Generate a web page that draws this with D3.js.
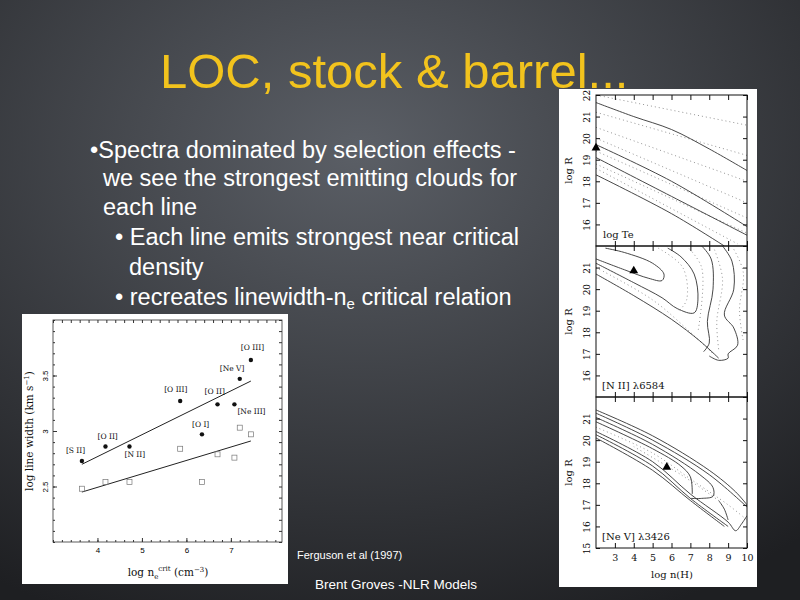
<!DOCTYPE html>
<html><head><meta charset="utf-8">
<script src="https://cdn.jsdelivr.net/npm/d3@7"></script>
<style>body{margin:0;background:#000}svg{display:block}</style></head>
<body><svg id="s" width="800" height="600"></svg>
<script>
// ---- data: left scatter ----
const lineLabels = ["[S II]","[O II]","[N II]","[O III]","[O I]","[O II]","[Ne III]","[Ne V]","[O III]"];
const logNcrit   = [3.65,4.18,4.72,5.86,6.35,6.70,7.08,7.20,7.45];
const widthFilled= [2.73,2.86,2.86,3.27,2.97,3.24,3.24,3.47,3.64];
const widthOpen  = [2.48,2.54,2.54,2.84,2.54,2.79,2.76,3.03,2.97];
const fitUpper = [[3.65,2.70],[7.45,3.45]];
const fitLower = [[3.65,2.45],[7.45,2.91]];
const xTicks = [4,5,6,7];
const yTicks = [2.5,3,3.5];
// ---- data: right contour panels (log n(H), log R) ----
const panelTitles = ["log Te","[N II] λ6584","[Ne V] λ3426"];
const rTicks = [15,16,17,18,19,20,21,22];
const nTicks = [3,4,5,6,7,8,9,10];
const topSolid = [
 [[2,21.65],[4,21.0],[6,20.4],[8,19.5],[10,18.5]],
 [[2,19.7],[6,18.0],[10,15.9]],
 [[2,19.1],[6,17.3],[10,15.5]],
 [[2,18.3],[6,16.5],[8.8,15.0]]];
const topDotted = [
 [[2,22.0],[10,20.6]],[[2,21.2],[10,19.2]],[[2,20.5],[10,18.0]],[[2,20.0],[10,17.0]],
 [[2,19.4],[10,16.3]],[[2,18.8],[10,15.6]],[[2,18.6],[9.5,15.1]]];
const midSolid = [
 [[2,20.7],[4,19.7],[6,18.6],[7.5,17.6],[8.5,16.8]],
 [[2,21.4],[3.5,20.9],[4.8,20.5],[5.5,20.4],[5.6,20.7],[5,21.2],[3.5,21.7],[2.5,21.9]],
 [[2,21.2],[4,20.3],[5.5,19.6],[6.3,19.1],[7.2,18.9],[7.4,19.5],[7.2,20.7],[6.5,21.5],[5.8,21.9]],
 [[7.6,22],[8.1,21.4],[8.2,20.0],[7.9,18.5],[8.0,17.5],[7.7,17.1]],
 [[8.7,22],[9.2,21.3],[9.3,20.0],[8.8,18.8],[9.3,18.2],[9.5,17.4],[9.0,17.0],[9.0,16.8],[8.5,16.7],[8.0,16.9]]];
const midDotted = [
 [[2,21.0],[5,19.5],[7,18.0],[8.2,17.0]],[[5.3,21.9],[6.6,21.0],[6.8,19.5],[6.4,19.0]],
 [[6.8,22],[7.6,21.0],[7.4,18.0]],[[8.2,22],[8.7,20.5],[8.4,18.5],[8.5,17.2]],[[9.2,22],[9.8,20.8],[9.6,19.0],[9.8,17.6]]];
const botSolid = [
 [[2,21.4],[5,20.2],[8,18.6],[9.4,17.6],[10,17.0]],
 [[2,21.25],[5,20.0],[8,18.4],[10,16.9]],
 [[2,21.05],[5,19.8],[7.5,18.4],[8.2,17.8],[8.2,17.4],[7.6,17.3],[7.0,17.3]],
 [[2,20.85],[5,19.6],[6.5,18.8],[7.0,18.3],[7.1,17.5]],
 [[2,20.4],[5,19.0],[7,17.5],[9,16.2],[9.4,15.8],[9.7,16.1],[10,16.5]],
 [[2,20.25],[5,18.8],[7,17.3],[9,16.0]],
 [[2,20.1],[5,18.6],[7,17.2],[8.8,16.0]],
 [[8.5,17.2],[8.8,16.8],[9.0,16.3]]];
const botDotted = [[[2,20.6],[5,19.4],[7,18.2],[9,17.0],[10,16.3]],[[4,19.7],[6.5,18.4],[8.5,17.2]]];
const triangles = [[2.0,19.55],[4.0,20.85],[5.75,18.75]];

const svg = d3.select("#s");
const defs = svg.append("defs");
const rg = defs.append("radialGradient").attr("id","bg").attr("cx","45%").attr("cy","25%").attr("r","85%");
rg.append("stop").attr("offset","0%").attr("stop-color","#5b5f66");
rg.append("stop").attr("offset","100%").attr("stop-color","#1e1f22");
svg.append("rect").attr("width",800).attr("height",600).attr("fill","url(#bg)");

svg.append("text").attr("x",160).attr("y",88)
  .attr("font-family","Liberation Sans, Arial").attr("font-size",49).attr("fill","#f2c31d")
  .text("LOC, stock & barrel...");

const bullets = [
 {x:90,y:158,t:"•Spectra dominated by selection effects -"},
 {x:103,y:186,t:"we see the strongest emitting clouds for"},
 {x:103,y:215,t:"each line"},
 {x:115,y:245,t:"• Each line emits strongest near critical"},
 {x:129,y:275,t:"density"},
 {x:115,y:305,t:"sub"}];
bullets.forEach(b=>{
  const t = svg.append("text").attr("x",b.x).attr("y",b.y).attr("font-family","Liberation Sans, Arial")
    .attr("font-size",23.5).attr("fill","#fff");
  if(b.t==="sub"){
    t.append("tspan").text("• recreates linewidth-n");
    t.append("tspan").attr("font-size",15).attr("dy",4).text("e");
    t.append("tspan").attr("dy",-4).text(" critical relation");
  } else t.text(b.t);
});
svg.append("text").attr("x",297).attr("y",559).attr("font-family","Liberation Sans, Arial").attr("font-size",11).attr("fill","#fff").text("Ferguson et al (1997)");
svg.append("text").attr("x",315).attr("y",589).attr("font-family","Liberation Sans, Arial").attr("font-size",13.5).attr("fill","#fff").text("Brent Groves -NLR Models");

const serif = "DejaVu Serif, Liberation Serif";
// ---- left scatter ----
svg.append("rect").attr("x",22).attr("y",314).attr("width",266).attr("height",270).attr("fill","#fff");
const x = d3.scaleLinear().domain([3,8.15]).range([53,282]);
const y = d3.scaleLinear().domain([2,4]).range([542,320]);
const g = svg.append("g");
g.append("rect").attr("x",53).attr("y",320).attr("width",229).attr("height",222).attr("fill","none").attr("stroke","#333").attr("stroke-width",0.8);
g.append("g").attr("transform","translate(0,542)").call(d3.axisBottom(x).tickValues(xTicks).tickSize(-4).tickFormat(d3.format("d")))
 .call(a=>{a.select(".domain").remove();a.selectAll("text").attr("font-size",8).attr("font-family","Liberation Sans").attr("dy",8);});
g.append("g").attr("transform","translate(0,542)").call(d3.axisBottom(x).ticks(20).tickSize(-2).tickFormat("")).call(a=>a.select(".domain").remove());
g.append("g").attr("transform","translate(0,320)").call(d3.axisTop(x).ticks(20).tickSize(-3).tickFormat(""))
 .call(a=>a.select(".domain").remove());
g.append("g").attr("transform","translate(53,0)").call(d3.axisLeft(y).tickValues(yTicks).tickSize(-4).tickFormat(d=>d))
 .call(a=>{a.select(".domain").remove();a.selectAll("text").attr("font-size",8).attr("font-family","Liberation Sans").attr("text-anchor","middle").attr("x",-8).attr("dy",3).attr("transform","rotate(-90,-8,0)");});
g.append("g").attr("transform","translate(53,0)").call(d3.axisLeft(y).ticks(20).tickSize(-2).tickFormat("")).call(a=>a.select(".domain").remove());
g.append("g").attr("transform","translate(282,0)").call(d3.axisRight(y).ticks(20).tickSize(-3).tickFormat(""))
 .call(a=>a.select(".domain").remove());
g.selectAll(".tick line").attr("stroke","#333");
const ln = d3.line().x(d=>x(d[0])).y(d=>y(d[1]));
[fitUpper,fitLower].forEach(f=>g.append("path").attr("d",ln(f)).attr("stroke","#222").attr("fill","none"));
g.selectAll(".f").data(logNcrit).join("circle").attr("cx",d=>x(d)).attr("cy",(d,i)=>y(widthFilled[i])).attr("r",2.2).attr("fill","#111");
g.selectAll(".o").data(logNcrit).join("rect").attr("x",d=>x(d)-2.5).attr("y",(d,i)=>y(widthOpen[i])-2.5).attr("width",5).attr("height",5).attr("fill","none").attr("stroke","#777").attr("stroke-width",0.7);
const lo = [[-16,-8],[-8,-8],[-5,10],[-16,-9],[-10,-7],[-13,-10],[3,10],[-20,-8],[-10,-10]];
g.selectAll(".l").data(lineLabels).join("text").attr("x",(d,i)=>x(logNcrit[i])+lo[i][0]).attr("y",(d,i)=>y(widthFilled[i])+lo[i][1])
 .attr("font-size",7.5).attr("font-family",serif).attr("fill","#111").text(d=>d);
g.append("text").attr("x",168).attr("y",576).attr("text-anchor","middle").attr("font-family",serif).attr("font-size",10.5).attr("fill","#111")
 .html('log n<tspan font-size="7" dy="3">e</tspan><tspan font-size="7" dy="-8">crit</tspan><tspan dy="5"> (cm</tspan><tspan font-size="7" dy="-4">−3</tspan><tspan dy="4">)</tspan>');
g.append("text").attr("transform","translate(33,431) rotate(-90)").attr("text-anchor","middle").attr("font-family",serif).attr("font-size",10.5).attr("fill","#111")
 .html('log line width (km s<tspan font-size="7" dy="-4">−1</tspan><tspan dy="4">)</tspan>');

// ---- right panels ----
svg.append("rect").attr("x",559).attr("y",89).attr("width",198).attr("height",498).attr("fill","#fff");
const xn = d3.scaleLinear().domain([2,10]).range([596,747]);
const tops=[95,246,397], ph=151;
const panels=[[topSolid,topDotted],[midSolid,midDotted],[botSolid,botDotted]];
panels.forEach((p,k)=>{
  const yr = d3.scaleLinear().domain([15,22]).range([tops[k]+ph,tops[k]]);
  const pg = svg.append("g");
  const clipId="c"+k;
  defs.append("clipPath").attr("id",clipId).append("rect").attr("x",596).attr("y",tops[k]).attr("width",151).attr("height",ph);
  const l2 = d3.line().x(d=>xn(d[0])).y(d=>yr(d[1])).curve(d3.curveCatmullRom);
  const cg = pg.append("g").attr("clip-path",`url(#${clipId})`);
  p[1].forEach(c=>cg.append("path").attr("d",l2(c)).attr("fill","none").attr("stroke","#888").attr("stroke-width",0.9).attr("stroke-dasharray","1,3"));
  p[0].forEach(c=>cg.append("path").attr("d",l2(c)).attr("fill","none").attr("stroke","#333").attr("stroke-width",0.9));
  pg.append("rect").attr("x",596).attr("y",tops[k]).attr("width",151).attr("height",ph).attr("fill","none").attr("stroke","#111");
  const ticksShown = k===0? rTicks.slice(1) : (k===1? rTicks.slice(1,7) : rTicks.slice(0,7));
  pg.append("g").attr("transform","translate(596,0)").call(d3.axisLeft(yr).tickValues(ticksShown).tickSize(-4).tickFormat(d3.format("d")))
    .call(a=>{a.select(".domain").remove();a.selectAll("text").attr("font-size",9).attr("font-family",serif).attr("text-anchor","middle").attr("dy",3).attr("x",-9).attr("transform","rotate(-90,-9,0)");});
  pg.append("g").attr("transform","translate(747,0)").call(d3.axisRight(yr).tickValues(rTicks).tickSize(-4).tickFormat(""))
    .call(a=>a.select(".domain").remove());
  pg.append("g").attr("transform",`translate(0,${tops[k]+ph})`).call(d3.axisTop(xn).tickValues(nTicks).tickSize(5).tickFormat(""))
    .call(a=>a.select(".domain").remove());
  pg.append("g").attr("transform",`translate(0,${tops[k]})`).call(d3.axisBottom(xn).tickValues(nTicks).tickSize(5).tickFormat(""))
    .call(a=>a.select(".domain").remove());
  pg.selectAll(".tick line").attr("stroke","#111");
  pg.append("text").attr("transform",`translate(572,${tops[k]+ph/2}) rotate(-90)`).attr("text-anchor","middle").attr("font-family",serif).attr("font-size",10).attr("fill","#111").text("log R");
  pg.append("text").attr("x",k===0?603:602).attr("y",tops[k]+ph-8).attr("font-family",serif).attr("font-size",10).attr("fill","#111").text(panelTitles[k]);
  const t = triangles[k];
  pg.append("path").attr("d",d3.symbol(d3.symbolTriangle,34)()).attr("transform",`translate(${xn(t[0])},${yr(t[1])})`).attr("fill","#000");
});
svg.append("g").attr("transform","translate(0,548)").call(d3.axisBottom(xn).tickValues(nTicks).tickSize(0).tickFormat(d3.format("d")))
  .call(a=>{a.select(".domain").remove();a.selectAll("text").attr("font-size",9.5).attr("font-family",serif).attr("fill","#111").attr("dy",10);});
svg.append("text").attr("x",672).attr("y",578).attr("text-anchor","middle").attr("font-family",serif).attr("font-size",10).attr("fill","#111").text("log n(H)");
</script></body></html>
